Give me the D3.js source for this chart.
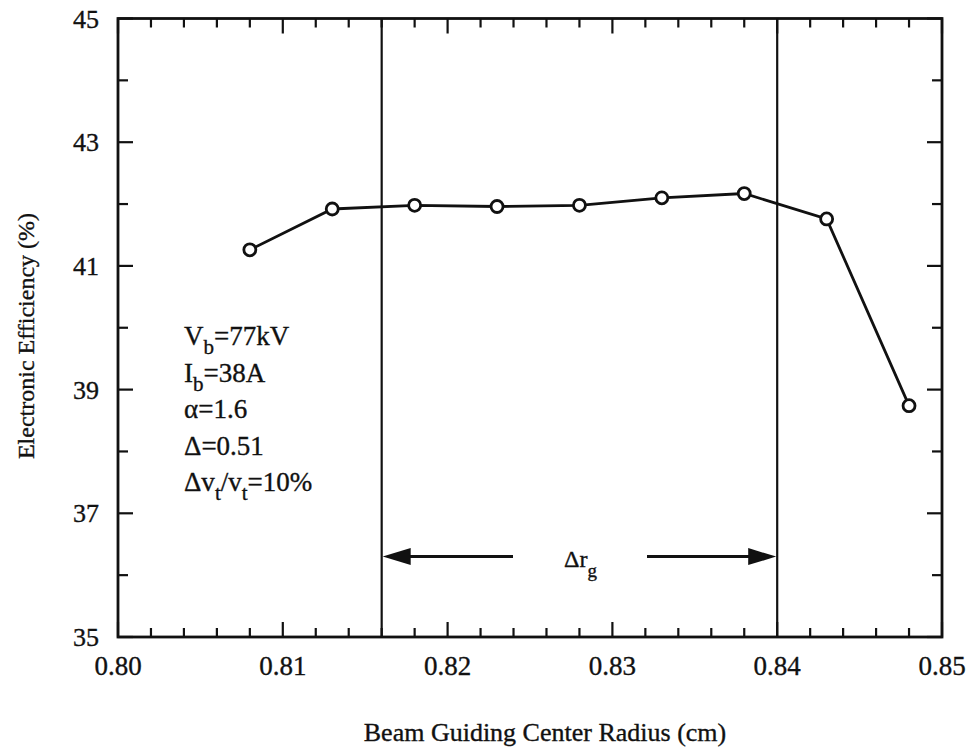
<!DOCTYPE html>
<html><head><meta charset="utf-8">
<script src="https://cdn.jsdelivr.net/npm/d3@7"></script>
<style>body{margin:0;background:#fff}text{font-family:"Liberation Serif","Times New Roman",serif;fill:#111;stroke:#111;stroke-width:0.35px}</style>
</head><body><svg id="c" width="971" height="753"></svg>
<script>
const radius = [0.808, 0.813, 0.818, 0.823, 0.828, 0.833, 0.838, 0.843, 0.848];
const efficiency = [41.26, 41.92, 41.98, 41.96, 41.98, 42.10, 42.17, 41.76, 38.74];
const xTicks = [0.80, 0.81, 0.82, 0.83, 0.84, 0.85];
const yTicks = [35, 37, 39, 41, 43, 45];
const bandEdges = [0.816, 0.840];
const arrowLevel = 36.3;
const params = [["V","b","=77kV"],["I","b","=38A"],["α","","=1.6"],["Δ","","=0.51"]];

const svg = d3.select("#c");
const L=118, R=942, T=18.5, B=637;
const x = d3.scaleLinear().domain([0.80,0.85]).range([L,R]);
const y = d3.scaleLinear().domain([35,45]).range([B,T]);
const sw = 2.8;

// minor/major ticks
const xMinor = d3.range(0,26).map(i=>0.80+i*0.002);
const yMinor = d3.range(35,46);
const tg = svg.append("g").attr("stroke","#111").attr("stroke-width",2.2);
xMinor.forEach((v,i)=>{
  const len = i%5===0 ? 15 : 9;
  tg.append("line").attr("x1",x(v)).attr("x2",x(v)).attr("y1",B).attr("y2",B-len);
  tg.append("line").attr("x1",x(v)).attr("x2",x(v)).attr("y1",T).attr("y2",T+len);
});
yMinor.forEach(v=>{
  const len = (v%2===1) ? 15 : 10;
  tg.append("line").attr("y1",y(v)).attr("y2",y(v)).attr("x1",L).attr("x2",L+len);
  tg.append("line").attr("y1",y(v)).attr("y2",y(v)).attr("x1",R).attr("x2",R-len);
});
// frame
svg.append("rect").attr("x",L).attr("y",T).attr("width",R-L).attr("height",B-T)
  .attr("fill","none").attr("stroke","#111").attr("stroke-width",sw);

// tick labels
svg.append("g").selectAll("text").data(xTicks).join("text")
  .attr("x",d=>x(d)).attr("y",B+38).attr("text-anchor","middle")
  .attr("font-size",27).text(d=>d3.format(".2f")(d));
svg.append("g").selectAll("text").data(yTicks).join("text")
  .attr("x",L-19).attr("y",d=>y(d)+9).attr("text-anchor","end")
  .attr("font-size",26).text(d=>d);

// axis titles
svg.append("text").attr("x",545).attr("y",741).attr("text-anchor","middle")
  .attr("font-size",26).text("Beam Guiding Center Radius (cm)");
svg.append("text").attr("transform","translate(34,336) rotate(-90)").attr("text-anchor","middle")
  .attr("font-size",24).text("Electronic Efficiency (%)");

// band lines
svg.append("g").selectAll("line").data(bandEdges).join("line")
  .attr("x1",d=>x(d)).attr("x2",d=>x(d)).attr("y1",T).attr("y2",B)
  .attr("stroke","#111").attr("stroke-width",2.2);

// arrows
const ay = y(arrowLevel);
const xl=x(bandEdges[0]), xr=x(bandEdges[1]);
const ag = svg.append("g");
ag.append("line").attr("x1",xl+20).attr("x2",513).attr("y1",ay).attr("y2",ay).attr("stroke","#111").attr("stroke-width",3);
ag.append("line").attr("x1",647).attr("x2",xr-20).attr("y1",ay).attr("y2",ay).attr("stroke","#111").attr("stroke-width",3);
ag.append("path").attr("d",`M${xl+1},${ay} L${xl+29},${ay-8.5} L${xl+29},${ay+8.5} Z`).attr("fill","#111");
ag.append("path").attr("d",`M${xr-1},${ay} L${xr-29},${ay-8.5} L${xr-29},${ay+8.5} Z`).attr("fill","#111");
const dt = svg.append("text").attr("x",564).attr("y",ay+10).attr("font-size",24);
dt.append("tspan").text("Δr");
dt.append("tspan").attr("dy",10).attr("font-size",19).text("g");

// line + markers
const pts = radius.map((r,i)=>[r,efficiency[i]]);
svg.append("path").datum(pts)
  .attr("d",d3.line().x(d=>x(d[0])).y(d=>y(d[1])))
  .attr("fill","none").attr("stroke","#111").attr("stroke-width",sw);
svg.append("g").selectAll("circle").data(pts).join("circle")
  .attr("cx",d=>x(d[0])).attr("cy",d=>y(d[1])).attr("r",6)
  .attr("fill","#fff").attr("stroke","#111").attr("stroke-width",2.8);

// parameter block
const px=184, py0=345, dy=36.5;
params.forEach((p,i)=>{
  const t = svg.append("text").attr("x",px).attr("y",py0+i*dy).attr("font-size",27);
  t.append("tspan").text(p[0]);
  if(p[1]){ t.append("tspan").attr("dy",9).attr("font-size",21).text(p[1]); t.append("tspan").attr("dy",-9).text(p[2]); }
  else t.append("tspan").text(p[2]);
});
const t5 = svg.append("text").attr("x",px).attr("y",py0+4*dy).attr("font-size",27);
t5.append("tspan").text("Δv");
t5.append("tspan").attr("dy",9).attr("font-size",21).text("t");
t5.append("tspan").attr("dy",-9).text("/v");
t5.append("tspan").attr("dy",9).attr("font-size",21).text("t");
t5.append("tspan").attr("dy",-9).text("=10%");
</script></body></html>
